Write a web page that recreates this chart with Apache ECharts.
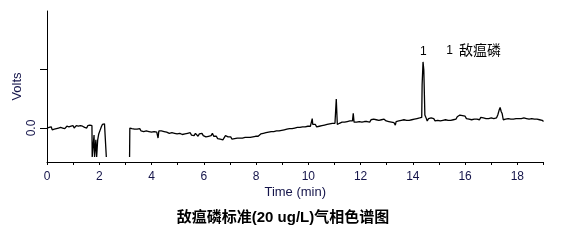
<!DOCTYPE html>
<html>
<head>
<meta charset="utf-8">
<script src="https://cdn.jsdelivr.net/npm/echarts@6/dist/echarts.min.js"></script>
<style>
html,body{margin:0;padding:0;background:#fff;}
#c{width:566px;height:245px;}
</style>
</head>
<body>
<div id="c"></div>
<script>
// ---- data (time in min, signal in Volts-units) ----
const title = '敌瘟磷标准(20 ug/L)气相色谱图';
const xName = 'Time (min)';
const yName = 'Volts';
const xTickLabels = [0, 2, 4, 6, 8, 10, 12, 14, 16, 18];
const yTickValues = [0, 1];
const yTickLabels = ['0.0'];
const peakNames = ['1'];
const peakTimes = [14.40];
const peakHeights = [1.12];
const legendIds = ['1'];
const legendNames = ['敌瘟磷'];

// segment 1: start to detector upset
const traceA = [
[0.00,0.00],[0.04,-0.02],[0.08,0.01],[0.12,-0.01],[0.16,0.02],[0.20,-0.03],[0.24,0.00],[0.28,-0.02],
[0.32,0.01],[0.36,-0.01],[0.40,0.02],[0.44,0.00],[0.48,-0.02],[0.52,0.01],[0.56,0.03],[0.60,0.00],
[0.64,0.02],[0.68,-0.01],[0.72,0.01],[0.76,0.03],[0.80,0.00],[0.84,0.02],[0.88,-0.01],[0.92,0.03],
[0.96,0.01],[1.00,0.04],[1.04,0.00],[1.08,0.02],[1.12,0.04],[1.16,0.01],[1.20,0.03],[1.24,0.00],
[1.28,0.04],[1.32,0.01],[1.36,0.03],[1.40,0.05],[1.44,0.01],[1.48,0.03],[1.52,0.00],[1.56,0.04],
[1.60,0.02],[1.64,0.05],[1.68,0.03],[1.70,0.06],[1.72,0.04],
[1.73,-0.49],[1.78,-0.49],[1.80,-0.12],[1.82,-0.49],[1.86,-0.49],[1.87,-0.20],[1.90,-0.49],
[1.92,-0.49],[1.94,-0.20],[1.98,-0.10],[2.03,-0.04],[2.08,0.02],[2.12,0.06],[2.16,0.05],
[2.20,0.07],[2.25,0.05],[2.27,-0.49]
];
// segment 2: after the upset to the end of the run
const traceB = [
[3.16,-0.49],[3.17,0.00],[3.20,-0.03],[3.25,-0.01],[3.30,-0.04],[3.35,-0.02],[3.40,-0.05],[3.45,-0.02],
[3.50,-0.04],[3.55,-0.01],[3.60,-0.05],[3.65,-0.03],[3.70,-0.06],[3.75,-0.03],[3.80,-0.05],[3.85,-0.02],
[3.90,-0.06],[3.95,-0.04],[4.00,-0.07],[4.05,-0.04],[4.10,-0.06],[4.15,-0.03],[4.20,-0.07],[4.25,-0.17],
[4.28,-0.05],[4.33,-0.07],[4.38,-0.05],[4.43,-0.08],[4.48,-0.06],[4.53,-0.04],[4.58,-0.07],[4.63,-0.05],
[4.68,-0.09],[4.73,-0.06],[4.78,-0.08],[4.83,-0.05],[4.88,-0.09],[4.93,-0.07],[4.98,-0.10],[5.03,-0.07],
[5.08,-0.09],[5.13,-0.06],[5.18,-0.11],[5.23,-0.08],[5.28,-0.10],[5.33,-0.13],[5.38,-0.09],[5.43,-0.11],
[5.48,-0.08],[5.53,-0.12],[5.58,-0.10],[5.63,-0.13],[5.68,-0.09],[5.73,-0.11],[5.78,-0.14],[5.83,-0.10],
[5.88,-0.12],[5.93,-0.09],[5.98,-0.13],[6.03,-0.11],[6.08,-0.15],[6.13,-0.12],[6.18,-0.14],[6.23,-0.16],
[6.28,-0.13],[6.33,-0.09],[6.38,-0.14],[6.43,-0.17],[6.48,-0.14],[6.53,-0.18],[6.58,-0.15],[6.63,-0.19],
[6.68,-0.16],[6.73,-0.20],[6.78,-0.17],[6.83,-0.13],[6.88,-0.11],[6.93,-0.15],[6.98,-0.18],[7.03,-0.15],
[7.08,-0.19],[7.13,-0.16],[7.18,-0.18],[7.23,-0.15],[7.28,-0.17],[7.33,-0.14],[7.38,-0.17],[7.43,-0.15],
[7.48,-0.17],[7.53,-0.14],[7.58,-0.16],[7.63,-0.13],[7.68,-0.16],[7.73,-0.14],[7.78,-0.16],[7.83,-0.13],
[7.88,-0.15],[7.93,-0.12],[7.98,-0.14],[8.03,-0.11],[8.08,-0.14],[8.13,-0.12],[8.18,-0.10],[8.23,-0.13],
[8.28,-0.09],[8.33,-0.11],[8.38,-0.08],[8.43,-0.10],[8.48,-0.07],[8.53,-0.09],[8.58,-0.06],[8.63,-0.09],
[8.68,-0.06],[8.73,-0.08],[8.78,-0.05],[8.83,-0.08],[8.88,-0.05],[8.93,-0.07],[8.98,-0.04],[9.03,-0.06],
[9.08,-0.03],[9.13,-0.05],[9.18,-0.02],[9.23,-0.04],[9.28,-0.01],[9.33,-0.03],[9.38,-0.01],[9.43,-0.03],
[9.48,0.00],[9.53,-0.02],[9.58,0.01],[9.63,-0.01],[9.68,0.01],[9.73,-0.01],[9.78,0.02],[9.83,0.00],
[9.88,0.02],[9.93,0.00],[9.98,0.03],[10.03,0.01],[10.08,0.03],[10.13,0.04],[10.15,0.16],[10.17,0.06],
[10.22,0.03],[10.27,0.06],[10.32,0.02],[10.37,0.05],[10.42,0.03],[10.47,0.06],[10.52,0.04],[10.57,0.07],
[10.62,0.05],[10.67,0.08],[10.72,0.06],[10.77,0.09],[10.82,0.07],[10.87,0.09],[10.92,0.08],[10.97,0.10],
[11.02,0.08],[11.06,0.09],[11.07,0.49],[11.10,0.49],[11.11,0.06],[11.14,0.03],[11.19,0.08],[11.24,0.06],
[11.29,0.10],[11.34,0.07],[11.39,0.10],[11.44,0.08],[11.49,0.11],[11.54,0.09],[11.59,0.12],[11.64,0.10],
[11.69,0.12],[11.72,0.25],[11.75,0.10],[11.80,0.12],[11.85,0.10],[11.90,0.13],[11.95,0.11],[12.00,0.13],
[12.05,0.10],[12.10,0.13],[12.15,0.11],[12.20,0.14],[12.25,0.11],[12.30,0.13],[12.35,0.10],[12.40,0.14],
[12.45,0.12],[12.50,0.15],[12.55,0.12],[12.60,0.14],[12.65,0.11],[12.70,0.13],[12.75,0.11],[12.80,0.14],
[12.85,0.12],[12.90,0.15],[12.94,0.18],[12.98,0.12],[13.03,0.14],[13.08,0.11],[13.13,0.13],[13.18,0.10],
[13.23,0.12],[13.28,0.09],[13.33,0.05],[13.36,0.11],[13.41,0.09],[13.46,0.12],[13.51,0.10],[13.56,0.13],
[13.61,0.11],[13.66,0.14],[13.71,0.11],[13.76,0.13],[13.81,0.10],[13.86,0.13],[13.91,0.11],[13.96,0.14],
[14.01,0.12],[14.06,0.15],[14.11,0.13],[14.16,0.16],[14.21,0.18],[14.26,0.17],[14.30,0.20],[14.34,0.18],
[14.355,0.73],[14.375,0.73],[14.39,1.12],[14.41,1.12],[14.42,0.98],[14.44,0.98],[14.46,0.22],[14.50,0.18],
[14.55,0.12],[14.60,0.16],[14.65,0.13],[14.70,0.17],[14.75,0.14],[14.80,0.16],[14.85,0.12],[14.90,0.15],
[14.95,0.13],[15.00,0.16],[15.05,0.12],[15.10,0.15],[15.15,0.13],[15.20,0.16],[15.25,0.14],[15.30,0.17],
[15.35,0.13],[15.40,0.15],[15.45,0.13],[15.50,0.16],[15.55,0.14],[15.60,0.17],[15.65,0.15],[15.70,0.19],
[15.75,0.21],[15.80,0.22],[15.85,0.20],[15.90,0.21],[15.95,0.18],[16.00,0.20],[16.05,0.16],[16.10,0.19],
[16.15,0.15],[16.20,0.18],[16.25,0.14],[16.30,0.17],[16.35,0.15],[16.40,0.18],[16.45,0.15],[16.50,0.17],
[16.55,0.14],[16.60,0.18],[16.65,0.15],[16.70,0.17],[16.75,0.14],[16.80,0.16],[16.85,0.13],[16.90,0.16],
[16.95,0.14],[17.00,0.17],[17.05,0.14],[17.10,0.16],[17.15,0.19],[17.20,0.17],[17.25,0.22],[17.30,0.30],
[17.34,0.35],[17.38,0.28],[17.42,0.24],[17.46,0.14],[17.50,0.11],[17.55,0.15],[17.60,0.12],[17.65,0.16],
[17.70,0.13],[17.75,0.15],[17.80,0.12],[17.85,0.15],[17.90,0.13],[17.95,0.16],[18.00,0.14],[18.05,0.16],
[18.10,0.13],[18.15,0.16],[18.20,0.14],[18.25,0.17],[18.30,0.14],[18.35,0.16],[18.40,0.13],[18.45,0.15],
[18.50,0.13],[18.55,0.16],[18.60,0.13],[18.65,0.15],[18.70,0.12],[18.75,0.15],[18.80,0.13],[18.85,0.14],
[18.90,0.11],[18.95,0.13],[19.00,0.11]
];

// ---- chart ----
const axisText = '#14144a';
const latin = '"Liberation Sans", Arial, "Noto Sans CJK SC", sans-serif';
const cjk = '"Liberation Sans", "Noto Sans CJK SC", sans-serif';
const chart = echarts.init(document.getElementById('c'), null, {renderer: 'canvas'});

const traceData = traceA.concat([[2.6, '-']], traceB);

chart.setOption({
  animation: false,
  backgroundColor: '#ffffff',
  grid: {left: 47, right: 22.5, top: 11, bottom: 83, containLabel: false, outerBoundsMode: 'none'},
  xAxis: {
    type: 'value', min: 0, max: 19, interval: 1,
    name: xName, nameLocation: 'middle', nameGap: 24, nameMoveOverlap: false,
    nameTextStyle: {color: axisText, fontSize: 13, fontFamily: latin},
    axisLine: {onZero: false, lineStyle: {color: '#000', width: 1}},
    axisTick: {length: 3, lineStyle: {color: '#000'}},
    splitLine: {show: false},
    axisLabel: {
      color: axisText, fontSize: 12, fontFamily: latin, margin: 9,
      formatter: v => xTickLabels.indexOf(v) >= 0 ? String(v) : ''
    }
  },
  yAxis: {
    type: 'value', min: -0.576, max: 1.983,
    name: yName, nameLocation: 'middle', nameGap: 23, nameRotate: 90, nameMoveOverlap: false,
    nameTextStyle: {color: axisText, fontSize: 13, fontFamily: latin},
    axisLine: {show: true, onZero: false, lineStyle: {color: '#000', width: 1}},
    axisTick: {show: true, length: 7, customValues: yTickValues, lineStyle: {color: '#000'}},
    splitLine: {show: false},
    axisLabel: {
      color: axisText, fontSize: 12, fontFamily: latin, rotate: 90, margin: 9,
      customValues: [0], formatter: () => yTickLabels[0]
    }
  },
  series: [{
    type: 'line', data: traceData, showSymbol: false, symbol: 'none',
    connectNulls: false,
    lineStyle: {color: '#000', width: 1.3},
    markPoint: {
      symbol: 'circle', symbolSize: 0,
      label: {show: true, position: 'top', distance: 4, color: '#000', fontSize: 12, fontFamily: latin,
        formatter: p => p.name},
      data: peakNames.map((n, i) => ({name: n, coord: [peakTimes[i], peakHeights[i]]}))
    }
  }],
  graphic: [
    {type: 'text', x: 449.5, y: 51, style: {text: legendIds[0], fill: '#000', font: '12px ' + latin, textAlign: 'center', textVerticalAlign: 'middle'}},
    {type: 'text', x: 459, y: 51, style: {text: legendNames[0], fill: '#000', font: '14px ' + cjk, textAlign: 'left', textVerticalAlign: 'middle'}},
    {type: 'text', x: 283, y: 218, style: {text: title, fill: '#000', font: 'bold 15px ' + cjk, textAlign: 'center', textVerticalAlign: 'middle'}}
  ]
});
</script>
</body>
</html>
